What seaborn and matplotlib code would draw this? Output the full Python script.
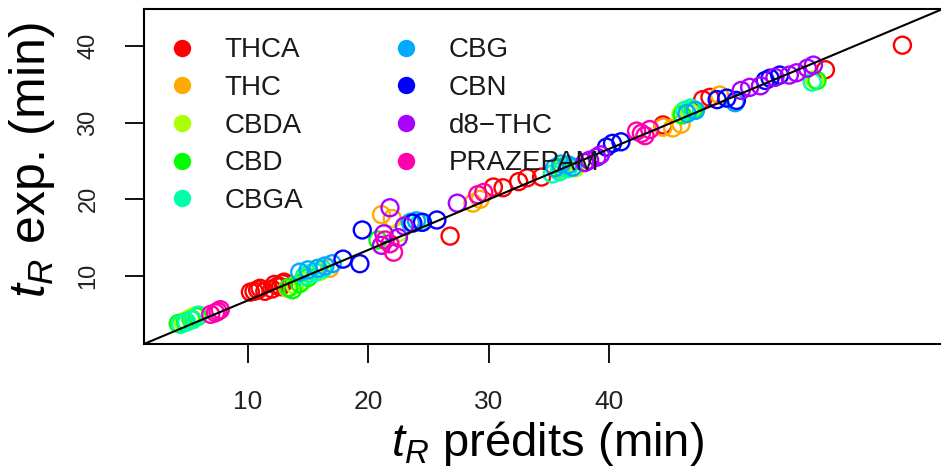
import pandas as pd
import numpy as np
import seaborn as sns
import matplotlib.pyplot as plt
from matplotlib.lines import Line2D

compounds = ['THCA', 'THC', 'CBDA', 'CBD', 'CBGA', 'CBG', 'CBN', 'd8\u2212THC', 'PRAZEPAM']
colors = ['#FF0000', '#FFAA00', '#AAFF00', '#00FF00', '#00FFAA',
          '#00AAFF', '#0000FF', '#AA00FF', '#FF00AA']

thca_pred = [10.2, 10.5, 10.8, 11.0, 11.4, 12.0, 12.2, 12.5, 12.7, 12.9, 13.0, 26.8, 30.4, 31.2,
             32.5, 33.2, 34.4, 44.5, 47.8, 48.4, 58.0, 64.4]
thca_exp = [7.9, 8.0, 8.2, 8.4, 8.0, 8.3, 8.9, 8.7, 8.6, 9.0, 9.2, 15.2, 21.6, 21.5,
            22.3, 22.8, 22.9, 29.7, 33.0, 33.3, 36.9, 40.1]
thc_pred = [13.3, 16.8, 21.1, 22.0, 28.7, 29.3, 35.9, 44.5, 45.3, 46.0, 49.2]
thc_exp = [8.4, 11.0, 18.0, 17.5, 19.5, 20.0, 23.8, 29.4, 29.3, 29.8, 33.6]
cbda_pred = [4.6, 5.2, 5.6, 13.9, 14.5, 16.0, 22.6, 36.2, 37.2, 46.0, 46.7, 57.1]
cbda_exp = [4.0, 4.5, 4.8, 8.8, 9.3, 10.6, 15.7, 23.9, 24.1, 31.2, 31.4, 35.6]
cbd_pred = [4.2, 4.8, 5.3, 5.8, 13.4, 13.7, 14.3, 15.0, 20.8, 36.0, 46.1, 47.0, 57.3]
cbd_exp = [3.8, 4.0, 4.3, 4.7, 8.5, 8.2, 9.0, 9.8, 14.7, 24.2, 31.0, 31.6, 35.5]
cbga_pred = [4.4, 4.9, 5.4, 5.9, 14.7, 15.1, 15.6, 16.2, 24.3, 35.3, 35.9, 36.6, 46.3, 46.8, 56.9]
cbga_exp = [3.7, 4.0, 4.3, 4.9, 10.0, 10.3, 10.5, 10.9, 17.0, 23.3, 23.6, 24.0, 31.6, 31.9, 35.3]
cbg_pred = [14.3, 15.0, 15.8, 16.4, 17.0, 23.5, 24.0, 35.5, 36.0, 36.6, 37.0, 46.5, 47.2, 50.5]
cbg_exp = [10.5, 10.8, 11.0, 11.3, 11.6, 17.0, 17.2, 24.1, 24.6, 24.5, 24.2, 31.2, 31.6, 32.6]
cbn_pred = [17.9, 19.3, 19.5, 23.7, 24.5, 25.7, 39.8, 40.3, 41.0, 49.0, 49.8, 50.6, 53.0, 53.4, 54.2]
cbn_exp = [12.2, 11.6, 16.0, 16.9, 17.0, 17.3, 26.8, 27.3, 27.5, 33.0, 33.2, 32.9, 35.5, 35.8, 36.2]
d8thc_pred = [21.8, 21.1, 21.3, 22.5, 23.0, 27.4, 38.0, 38.4, 39.0, 39.3, 51.0, 51.7, 52.6,
              53.8, 55.0, 55.6, 56.5, 57.0]
d8thc_exp = [18.9, 14.0, 15.5, 15.0, 16.5, 19.5, 24.8, 25.1, 25.5, 25.8, 34.2, 34.6, 34.8,
             35.9, 36.2, 36.5, 37.1, 37.5]
praz_pred = [6.9, 7.3, 7.5, 7.7, 21.4, 21.8, 22.1, 29.1, 29.6, 42.3, 42.7, 43.0, 43.4]
praz_exp = [5.0, 5.2, 5.4, 5.6, 14.7, 14.2, 13.1, 20.6, 20.9, 28.9, 28.6, 28.3, 29.1]

line_intercept = 0.24
line_slope = 0.658

x_ticks = [10, 20, 30, 40]
y_ticks = [10, 20, 30, 40]

preds = [thca_pred, thc_pred, cbda_pred, cbd_pred, cbga_pred, cbg_pred, cbn_pred, d8thc_pred, praz_pred]
exps = [thca_exp, thc_exp, cbda_exp, cbd_exp, cbga_exp, cbg_exp, cbn_exp, d8thc_exp, praz_exp]
df = pd.concat([pd.DataFrame({'pred': p, 'exp': e, 'compound': c})
                for p, e, c in zip(preds, exps, compounds)], ignore_index=True)

sns.set_style('white')
plt.rcParams['font.family'] = ['Liberation Sans', 'DejaVu Sans']
plt.rcParams['mathtext.fontset'] = 'custom'
plt.rcParams['mathtext.it'] = 'Liberation Sans:italic'
plt.rcParams['mathtext.rm'] = 'Liberation Sans'

fig = plt.figure(figsize=(9.41, 4.68), dpi=100)
ax = fig.add_axes([144 / 941, 124 / 468, 801 / 941, 335 / 468])

sns.scatterplot(data=df, x='pred', y='exp', hue='compound', hue_order=compounds,
                palette=colors, s=150, linewidth=1.7, legend=False, ax=ax)
# open circles like R's pch=1
coll = ax.collections[0]
coll.set_edgecolors(coll.get_facecolors())
coll.set_facecolors('none')

ax.axline((0, line_intercept), slope=line_slope, color='black', lw=1.5, zorder=3)

ax.set_xlim(1.355, 67.94)
ax.set_ylim(1.13, 44.82)
ax.set_xticks(x_ticks)
ax.set_yticks(y_ticks)
ax.set_xticklabels([str(t) for t in x_ticks], fontsize=19, color='#222222')
ax.set_yticklabels([str(t) for t in y_ticks], rotation=90, va='center', fontsize=17, color='#222222')
ax.tick_params(axis='both', direction='out', length=14, width=1.3, color='black', bottom=True, left=True)
ax.tick_params(axis='x', pad=19)
ax.tick_params(axis='y', pad=18)
for side in ['left', 'bottom', 'top', 'right']:
    ax.spines[side].set_color('black')
    ax.spines[side].set_linewidth(1.5)

ax.set_xlabel('$t_R$ pr\u00e9dits (min)', fontsize=34, va='top', color='black')
ax.xaxis.set_label_coords(0.504, -0.225)
ax.set_ylabel('$t_R$ exp. (min)', fontsize=36, color='black')
ax.yaxis.set_label_coords(-0.108, 0.549)

handles = [Line2D([], [], marker='o', ls='none', markersize=11.5, markerfacecolor=c,
                  markeredgecolor=c) for c in colors]
leg = ax.legend(handles, compounds, ncol=2, frameon=False, loc='upper left',
                bbox_to_anchor=(0.033, 0.915), borderaxespad=0, borderpad=0,
                fontsize=20, handlelength=0.8, handletextpad=1.15, columnspacing=3.3,
                labelspacing=0.42)
for t in leg.get_texts():
    t.set_color('#1a1a1a')

plt.savefig('out.png', dpi=100)
